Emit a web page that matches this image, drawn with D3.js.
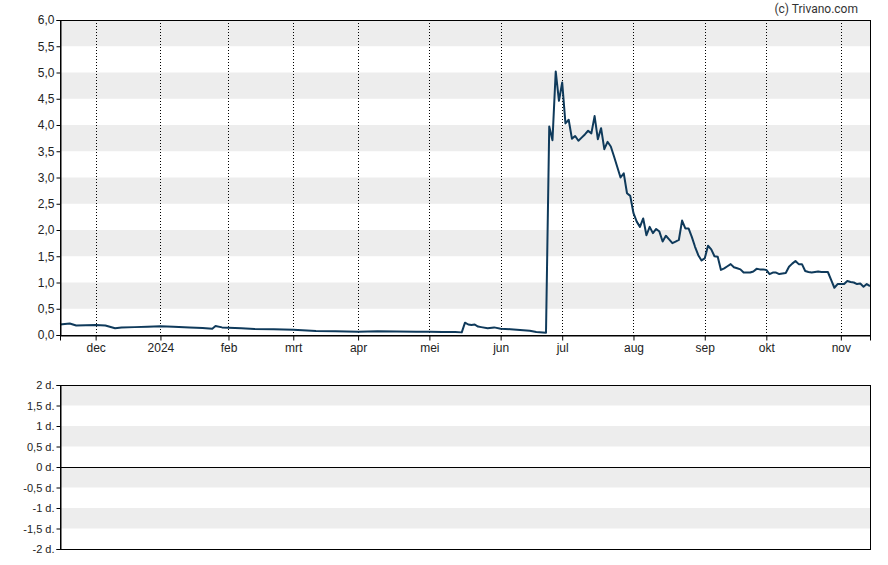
<!DOCTYPE html>
<html>
<head>
<meta charset="utf-8">
<script src="https://cdn.jsdelivr.net/npm/d3@7"></script>
<style>
  html, body { margin: 0; padding: 0; background: #fff; }
  svg { display: block; font-family: "Liberation Sans", Arial, sans-serif; }
</style>
</head>
<body>
<svg id="chart" width="888" height="565"></svg>
<script>
// ---- data (trading-day index, price) ----
const dayIndex = [0,3,5,8,11,14,17,19,23,27,31,35,40,44,47,48,50,52,56,60,66,72,79,85,92,98,104,110,114,118,122,124,125,126,127,128,129,130,132,134,136,139,142,145,147,150,
  151,152,153,154,155,156,157,158,159,160,161,162,163,164,165,166,167,168,169,170,171,172,173,174,175,176,177,178,179,180,181,182,183,184,185,186,187,188,189,190,191,192,193,194,195,196,197,198,199,200,201,202,203,204,205,206,207,208,209,210,211,212,213,214,215,216,217,218,219,220,221,222,223,224,225,226,227,228,229,230,231,232,233,234,235,236,237,238,239,240,241,242,243,244,245,246,247,248,249,250];
const price = [0.20,0.22,0.18,0.185,0.19,0.18,0.13,0.145,0.15,0.155,0.165,0.155,0.145,0.135,0.12,0.17,0.145,0.14,0.13,0.115,0.11,0.10,0.076,0.07,0.063,0.07,0.065,0.062,0.063,0.058,0.055,0.05,0.235,0.2,0.19,0.20,0.16,0.15,0.13,0.145,0.12,0.11,0.095,0.08,0.057,0.044,
  3.97,3.71,5.02,4.46,4.81,4.03,4.10,3.74,3.79,3.70,3.76,3.82,3.89,3.84,4.17,3.73,3.94,3.54,3.68,3.59,3.40,3.20,3.00,3.08,2.70,2.65,2.32,2.16,2.06,2.22,1.90,2.06,1.94,2.02,1.97,1.78,1.89,1.82,1.75,1.78,1.81,2.18,2.03,2.03,1.87,1.68,1.52,1.42,1.46,1.70,1.63,1.50,1.49,1.24,1.27,1.31,1.35,1.29,1.27,1.25,1.19,1.19,1.19,1.21,1.26,1.25,1.25,1.24,1.16,1.19,1.19,1.16,1.17,1.18,1.30,1.36,1.41,1.35,1.35,1.22,1.20,1.19,1.20,1.21,1.20,1.20,1.20,1.05,0.90,0.97,0.97,0.97,1.03,1.01,1.00,0.97,0.98,0.92,0.97,0.93];
const monthLabels = ["dec","2024","feb","mrt","apr","mei","jun","jul","aug","sep","okt","nov"];
const monthIndex  = [11,31,52,72,92,114,136,155,177,199,218,241];
const priceTicks = [0,0.5,1,1.5,2,2.5,3,3.5,4,4.5,5,5.5,6];
const lowerTicks = [-2,-1.5,-1,-0.5,0,0.5,1,1.5,2];

const fmt = v => d3.format(".1f")(v).replace(".", ",");
const fmtD = v => String(v).replace(".", ",") + " d.";

const svg = d3.select("#chart");
const L = 60, R = 870;
const x = d3.scaleLinear().domain([0, 250]).range([L, R]);
const y = d3.scaleLinear().domain([0, 6]).range([335, 20]);
const y2 = d3.scaleLinear().domain([-2, 2]).range([549, 385]);

// ---- top panel bands ----
const gTop = svg.append("g");
for (let i = 0; i < priceTicks.length - 1; i++) {
  if (i % 2 === 1) {
    gTop.append("rect").attr("x", L).attr("width", R - L)
      .attr("y", y(priceTicks[i + 1])).attr("height", y(priceTicks[i]) - y(priceTicks[i + 1]))
      .attr("fill", "#ededed");
  }
}
// vertical dotted month lines
gTop.selectAll("line.vg").data(monthIndex).join("line")
  .attr("x1", d => Math.round(x(d)) + 0.5).attr("x2", d => Math.round(x(d)) + 0.5)
  .attr("y1", 20).attr("y2", 335)
  .attr("stroke", "#000").attr("stroke-width", 1).attr("stroke-dasharray", "1,2");

// price line
const line = d3.line().x((d, i) => x(dayIndex[i])).y(d => y(d));
gTop.append("path").datum(price).attr("d", line)
  .attr("fill", "none").attr("stroke", "#0f3a5b").attr("stroke-width", 2)
  .attr("stroke-linejoin", "round");

// frame
gTop.append("rect").attr("x", L + 0.5).attr("y", 20.5).attr("width", R - L).attr("height", 315)
  .attr("fill", "none").attr("stroke", "#000").attr("stroke-width", 1);

// axes
const yAxis = d3.axisLeft(y).tickValues(priceTicks).tickFormat(fmt).tickSize(4).tickPadding(2);
const gy = svg.append("g").attr("transform", `translate(${L + 0.5},0)`).call(yAxis);
const xAxis = d3.axisBottom(x).tickValues(monthIndex).tickFormat((d, i) => monthLabels[i]).tickSize(5).tickPadding(3);
const gx = svg.append("g").attr("transform", `translate(0,${335.5})`).call(xAxis);
[gy, gx].forEach(g => {
  g.select(".domain").attr("stroke", "#000");
  g.selectAll(".tick line").attr("stroke", "#000");
  g.selectAll("text").attr("fill", "#222").style("font-size", "12px")
    .style("font-family", "'Liberation Sans', Arial, sans-serif");
});

// ---- bottom panel ----
const gBot = svg.append("g");
for (let i = 0; i < lowerTicks.length - 1; i++) {
  if (i % 2 === 1) {
    gBot.append("rect").attr("x", L).attr("width", R - L)
      .attr("y", y2(lowerTicks[i + 1])).attr("height", y2(lowerTicks[i]) - y2(lowerTicks[i + 1]))
      .attr("fill", "#ededed");
  }
}
gBot.append("rect").attr("x", L + 0.5).attr("y", y2(2) + 0.5).attr("width", R - L).attr("height", y2(-2) - y2(2))
  .attr("fill", "none").attr("stroke", "#000");
gBot.append("line").attr("x1", L).attr("x2", R).attr("y1", Math.round(y2(0)) + 0.5).attr("y2", Math.round(y2(0)) + 0.5)
  .attr("stroke", "#000");
const y2Axis = d3.axisLeft(y2).tickValues(lowerTicks).tickFormat(fmtD).tickSize(4).tickPadding(2);
const gy2 = svg.append("g").attr("transform", `translate(${L + 0.5},0)`).call(y2Axis);
gy2.select(".domain").attr("stroke", "#000");
gy2.selectAll(".tick line").attr("stroke", "#000");
gy2.selectAll("text").attr("fill", "#222").style("font-size", "11px")
  .style("font-family", "'Liberation Sans', Arial, sans-serif");

// watermark
svg.append("text").attr("x", 858).attr("y", 13).attr("text-anchor", "end")
  .style("font-size", "12px").style("font-family", "Roboto, 'Liberation Sans', Arial, sans-serif")
  .attr("fill", "#333").text("(c) Trivano.com");
</script>
</body>
</html>
